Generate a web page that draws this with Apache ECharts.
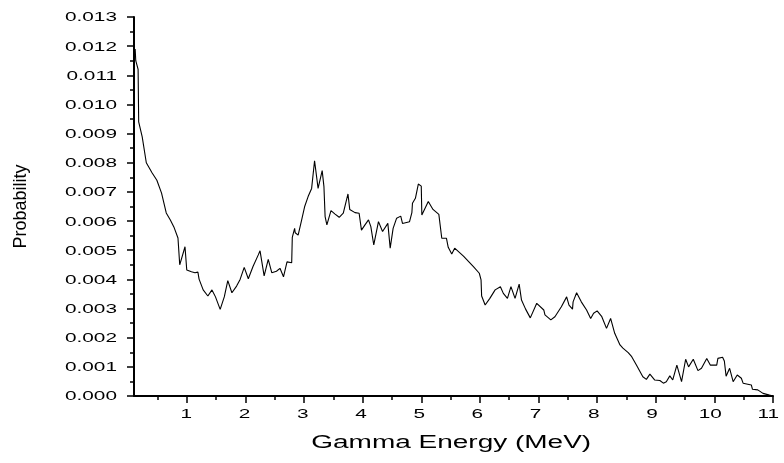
<!DOCTYPE html>
<html>
<head>
<meta charset="utf-8">
<script src="https://cdn.jsdelivr.net/npm/echarts@6/dist/echarts.min.js"></script>
<style>
  html, body { margin: 0; padding: 0; background: #fff; }
  #wrap { position: relative; width: 784px; height: 463px; overflow: hidden; }
  #chart { position: absolute; left: 0; top: 0; width: 784px; height: 463px; }
  /* Horizontal labels are drawn in a layer that is widened with scaleX */
  #labels { position: absolute; left: 0; top: 0; height: 463px; transform-origin: 0 0; pointer-events: none; }
</style>
</head>
<body>
<div id="wrap">
  <div id="chart"></div>
  <div id="labels"></div>
</div>
<script>
// Gamma energy spectrum (MeV) and emission probability per bin
const energy = [
  0.12, 0.13, 0.17, 0.18, 0.24, 0.31, 0.41, 0.49, 0.57, 0.65,
  0.72, 0.78, 0.85, 0.88, 0.97, 1.00, 1.08, 1.14, 1.19, 1.21,
  1.28, 1.36, 1.43, 1.49, 1.57, 1.64, 1.70, 1.77, 1.85, 1.91,
  1.98, 2.05, 2.13, 2.22, 2.25, 2.32, 2.39, 2.45, 2.53, 2.59,
  2.65, 2.71, 2.79, 2.80, 2.84, 2.85, 2.90, 2.96, 3.01, 3.07,
  3.13, 3.18, 3.24, 3.31, 3.34, 3.36, 3.39, 3.46, 3.53, 3.60,
  3.67, 3.75, 3.78, 3.87, 3.94, 3.98, 4.04, 4.10, 4.14, 4.19,
  4.27, 4.34, 4.43, 4.47, 4.52, 4.58, 4.65, 4.68, 4.71, 4.80,
  4.84, 4.85, 4.90, 4.95, 5.00, 5.01, 5.12, 5.20, 5.30, 5.35,
  5.43, 5.46, 5.52, 5.57, 5.72, 5.89, 5.99, 6.02, 6.03, 6.09,
  6.17, 6.26, 6.35, 6.40, 6.47, 6.53, 6.60, 6.67, 6.71, 6.78,
  6.86, 6.97, 7.09, 7.11, 7.21, 7.28, 7.39, 7.48, 7.52, 7.58,
  7.59, 7.65, 7.73, 7.82, 7.89, 7.94, 8.00, 8.08, 8.16, 8.23,
  8.30, 8.39, 8.44, 8.53, 8.59, 8.67, 8.70, 8.78, 8.84, 8.90,
  8.98, 9.07, 9.13, 9.18, 9.24, 9.29, 9.36, 9.44, 9.51, 9.56,
  9.64, 9.72, 9.78, 9.87, 9.93, 10.04, 10.06, 10.14, 10.17, 10.20,
  10.26, 10.32, 10.39, 10.46, 10.49, 10.63, 10.65, 10.74, 10.83, 10.94,
  11.00
];
const probability = [
  0.01190, 0.01150, 0.01120, 0.00940, 0.00889, 0.00800, 0.00765, 0.00740, 0.00696, 0.00628,
  0.00604, 0.00580, 0.00542, 0.00450, 0.00512, 0.00432, 0.00426, 0.00423, 0.00425, 0.00401,
  0.00364, 0.00343, 0.00364, 0.00340, 0.00297, 0.00340, 0.00396, 0.00354, 0.00377, 0.00400,
  0.00441, 0.00402, 0.00444, 0.00484, 0.00498, 0.00412, 0.00469, 0.00423, 0.00428, 0.00438,
  0.00409, 0.00460, 0.00457, 0.00544, 0.00575, 0.00560, 0.00552, 0.00604, 0.00649, 0.00684,
  0.00712, 0.00807, 0.00712, 0.00773, 0.00718, 0.00615, 0.00587, 0.00636, 0.00624, 0.00613,
  0.00627, 0.00693, 0.00640, 0.00629, 0.00627, 0.00569, 0.00587, 0.00604, 0.00581, 0.00518,
  0.00598, 0.00564, 0.00592, 0.00507, 0.00575, 0.00610, 0.00617, 0.00592, 0.00598, 0.00598,
  0.00629, 0.00661, 0.00678, 0.00727, 0.00720, 0.00621, 0.00667, 0.00640, 0.00623, 0.00541,
  0.00541, 0.00510, 0.00487, 0.00507, 0.00480, 0.00444, 0.00421, 0.00398, 0.00343, 0.00312,
  0.00335, 0.00364, 0.00375, 0.00352, 0.00335, 0.00375, 0.00335, 0.00384, 0.00329, 0.00298,
  0.00268, 0.00318, 0.00295, 0.00278, 0.00261, 0.00272, 0.00306, 0.00340, 0.00312, 0.00298,
  0.00323, 0.00354, 0.00323, 0.00295, 0.00266, 0.00284, 0.00292, 0.00272, 0.00232, 0.00266,
  0.00215, 0.00175, 0.00164, 0.00149, 0.00135, 0.00106, 0.00100, 0.00066, 0.00057, 0.00075,
  0.00055, 0.00053, 0.00044, 0.00049, 0.00069, 0.00055, 0.00106, 0.00049, 0.00126, 0.00100,
  0.00126, 0.00087, 0.00095, 0.00129, 0.00106, 0.00106, 0.00129, 0.00133, 0.00120, 0.00068,
  0.00095, 0.00049, 0.00072, 0.00061, 0.00044, 0.00038, 0.00023, 0.00021, 0.00009, 0.00003,
  0.00000
];

// Axis ticks
const xMajorTicks = [1, 2, 3, 4, 5, 6, 7, 8, 9, 10, 11];
const xMinorTicks = [0.5, 1.5, 2.5, 3.5, 4.5, 5.5, 6.5, 7.5, 8.5, 9.5, 10.5];
const xMin = 0.1, xMax = 11;
const yMin = 0, yMax = 0.013, yStep = 0.001;

const font = 'Liberation Sans, Arial, sans-serif';
const ink = '#000';
const W = 784, H = 463;
const plot = { left: 134, right: 11, top: 17, bottom: 67 };
const stretch = 1.6; // horizontal widening of the upright label text

// ---- Main layer: axes, ticks, curve, vertical title ----
const chart = echarts.init(document.getElementById('chart'), null, { renderer: 'canvas' });
chart.setOption({
  backgroundColor: '#fff',
  animation: false,
  grid: plot,
  xAxis: [
    {
      type: 'value', min: xMin, max: xMax,
      axisLine: { show: true, lineStyle: { color: ink, width: 2 } },
      axisTick: { show: true, inside: false, length: 7, lineStyle: { color: ink, width: 1.5 }, customValues: xMajorTicks },
      axisLabel: { show: false },
      splitLine: { show: false }
    },
    {
      type: 'value', min: xMin, max: xMax, position: 'bottom',
      axisLine: { show: false },
      axisTick: { show: true, inside: false, length: 4, lineStyle: { color: ink, width: 1.5 }, customValues: xMinorTicks },
      axisLabel: { show: false },
      splitLine: { show: false }
    }
  ],
  yAxis: {
    type: 'value', min: yMin, max: yMax, interval: yStep,
    name: 'Probability',
    nameLocation: 'middle',
    nameRotate: 90,
    nameGap: 104,
    nameTextStyle: { fontFamily: font, fontSize: 18, color: ink },
    axisLine: { show: true, lineStyle: { color: ink, width: 2 } },
    axisTick: { show: true, inside: false, length: 7, lineStyle: { color: ink, width: 1.5 } },
    minorTick: { show: true, splitNumber: 2, length: 4, lineStyle: { color: ink, width: 1.5 } },
    axisLabel: { show: false },
    splitLine: { show: false },
    minorSplitLine: { show: false }
  },
  series: [{
    type: 'line',
    data: energy.map((e, i) => [e, probability[i]]),
    showSymbol: false,
    lineStyle: { color: ink, width: 1.1 },
    clip: true
  }]
});

// ---- Label layer: same axes in a narrower box, widened by CSS ----
const labelsEl = document.getElementById('labels');
labelsEl.style.width = (W / stretch) + 'px';
labelsEl.style.transform = 'scaleX(' + stretch + ')';
const labels = echarts.init(labelsEl, null, { renderer: 'svg' });
labels.setOption({
  animation: false,
  grid: {
    left: plot.left / stretch, right: plot.right / stretch,
    top: plot.top, bottom: plot.bottom
  },
  xAxis: {
    type: 'value', min: xMin, max: xMax,
    name: 'Gamma Energy (MeV)',
    nameLocation: 'middle',
    nameGap: 37,
    nameTextStyle: { fontFamily: font, fontSize: 17.5, color: ink },
    axisLine: { show: false },
    axisTick: { show: false },
    axisLabel: { show: true, margin: 11, fontFamily: font, fontSize: 13, color: ink, customValues: xMajorTicks },
    splitLine: { show: false }
  },
  yAxis: {
    type: 'value', min: yMin, max: yMax, interval: yStep,
    axisLine: { show: false },
    axisTick: { show: false },
    axisLabel: { margin: 17 / stretch, fontFamily: font, fontSize: 13, color: ink, formatter: v => v.toFixed(3) },
    splitLine: { show: false }
  },
  series: []
});
</script>
</body>
</html>
